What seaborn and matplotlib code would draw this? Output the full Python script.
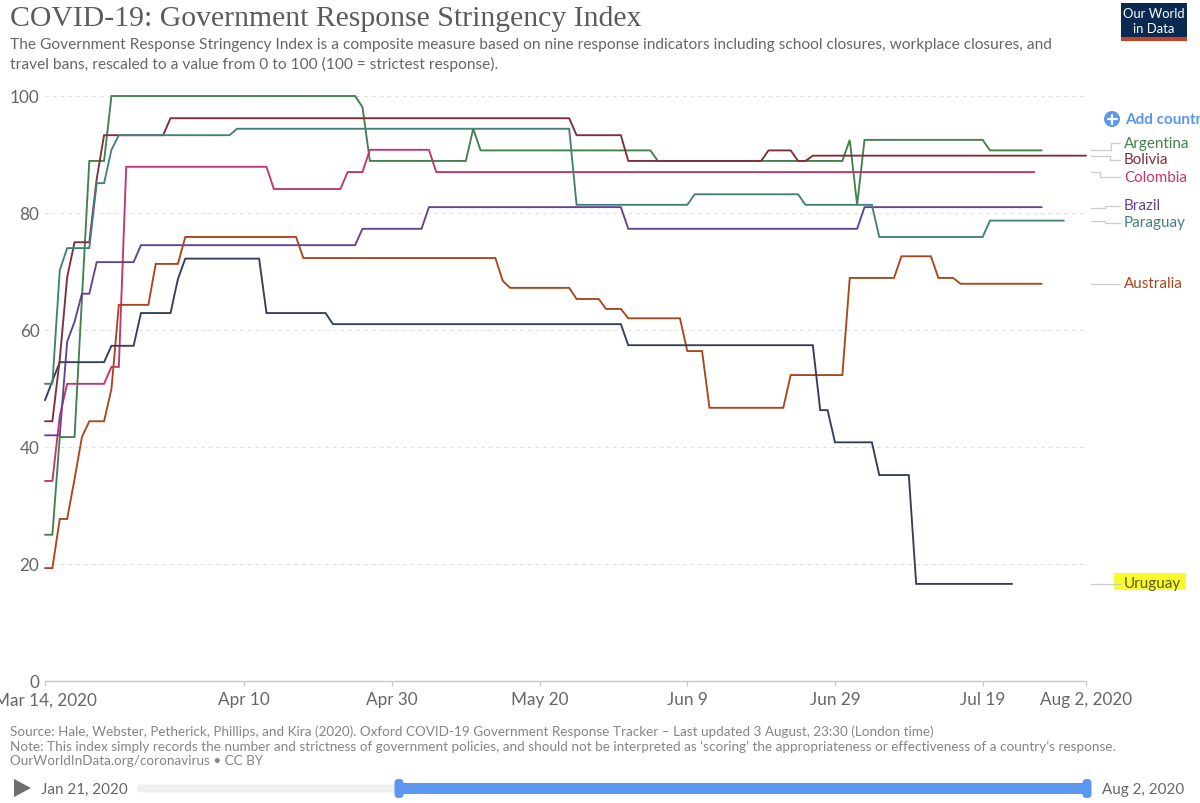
import pandas as pd
import matplotlib.pyplot as plt
from matplotlib.patches import Rectangle, Circle, FancyBboxPatch, Polygon
import seaborn as sns

# days are counted from the first date on the axis (Mar 14, 2020)
start_date = pd.Timestamp('2020-03-14')

argentina_days = [0, 1, 2, 4, 6, 8, 9, 42, 43, 44, 57, 58, 59, 82, 83, 108, 109, 110, 111, 127, 128, 135]
argentina_vals = [25, 25, 41.7, 41.7, 88.9, 88.9, 100, 100, 98.1, 88.9, 88.9, 94.4, 90.7, 90.7, 88.9, 88.9, 92.5, 81.4, 92.5, 92.5, 90.7, 90.7]

bolivia_days = [0, 1, 2, 3, 4, 6, 7, 8, 16, 17, 71, 72, 78, 79, 97, 98, 101, 102, 103, 104, 141]
bolivia_vals = [44.4, 44.4, 55, 69, 75, 75, 85.8, 93.3, 93.3, 96.2, 96.2, 93.3, 93.3, 88.9, 88.9, 90.7, 90.7, 88.9, 88.9, 89.8, 89.8]

colombia_days = [0, 1, 2, 3, 8, 9, 10, 11, 30, 31, 40, 41, 43, 44, 52, 53, 134]
colombia_vals = [34.2, 34.2, 45.3, 50.8, 50.8, 53.7, 53.7, 87.9, 87.9, 84.1, 84.1, 87, 87, 90.8, 90.8, 87, 87]

brazil_days = [0, 2, 3, 4, 5, 6, 7, 12, 13, 42, 43, 51, 52, 78, 79, 110, 111, 135]
brazil_vals = [42, 42, 58, 61.4, 66.2, 66.2, 71.6, 71.6, 74.5, 74.5, 77.3, 77.3, 81, 81, 77.3, 77.3, 81, 81]

paraguay_days = [0, 1, 2, 3, 6, 7, 8, 9, 10, 25, 26, 71, 72, 87, 88, 102, 103, 112, 113, 127, 128, 138]
paraguay_vals = [50.8, 50.8, 70.2, 74, 74, 85.1, 85.1, 90.8, 93.3, 93.3, 94.4, 94.4, 81.4, 81.4, 83.2, 83.2, 81.4, 81.4, 75.9, 75.9, 78.7, 78.7]

australia_days = [0, 1, 2, 3, 4, 5, 6, 8, 9, 10, 14, 15, 18, 19, 34, 35, 61, 62, 63, 71, 72, 75, 76, 78, 79, 86, 87, 89, 90, 100, 101, 108, 109, 115, 116, 120, 121, 123, 124, 135]
australia_vals = [19.3, 19.3, 27.7, 27.7, 34.5, 41.7, 44.4, 44.4, 49.9, 64.3, 64.3, 71.3, 71.3, 75.9, 75.9, 72.3, 72.3, 68.4, 67.2, 67.2, 65.3, 65.3, 63.6, 63.6, 62, 62, 56.4, 56.4, 46.7, 46.7, 52.3, 52.3, 68.9, 68.9, 72.6, 72.6, 68.9, 68.9, 67.9, 67.9]

uruguay_days = [0, 1, 2, 8, 9, 12, 13, 17, 18, 19, 29, 30, 38, 39, 78, 79, 104, 105, 106, 107, 112, 113, 117, 118, 131]
uruguay_vals = [48, 51.3, 54.5, 54.5, 57.3, 57.3, 62.9, 62.9, 68.7, 72.2, 72.2, 62.9, 62.9, 61, 61, 57.4, 57.4, 46.3, 46.3, 40.8, 40.8, 35.2, 35.2, 16.6, 16.6]

# draw order, last one ends up on top
countries = ['Argentina', 'Colombia', 'Brazil', 'Australia', 'Uruguay', 'Bolivia', 'Paraguay']
series_days = [argentina_days, colombia_days, brazil_days, australia_days, uruguay_days, bolivia_days, paraguay_days]
series_vals = [argentina_vals, colombia_vals, brazil_vals, australia_vals, uruguay_vals, bolivia_vals, paraguay_vals]
line_colors = ['#44804c', '#c2356f', '#624390', '#a8471f', '#333f5a', '#7d2f3a', '#43807c']

y_ticks = [0, 20, 40, 60, 80, 100]
x_tick_days = [0, 27, 47, 67, 87, 107, 127, 141]
x_tick_labels = ['Mar 14, 2020', 'Apr 10', 'Apr 30', 'May 20', 'Jun 9', 'Jun 29', 'Jul 19', 'Aug 2, 2020']

title = 'COVID-19: Government Response Stringency Index'
subtitle = ['The Government Response Stringency Index is a composite measure based on nine response indicators including school closures, workplace closures, and',
            'travel bans, rescaled to a value from 0 to 100 (100 = strictest response).']
footer = ['Source: Hale, Webster, Petherick, Phillips, and Kira (2020). Oxford COVID-19 Government Response Tracker – Last updated 3 August, 23:30 (London time)',
          'Note: This index simply records the number and strictness of government policies, and should not be interpreted as ‘scoring’ the appropriateness or effectiveness of a country’s response.',
          'OurWorldInData.org/coronavirus • CC BY']

# build long table for seaborn
frames = []
for name, days, vals in zip(countries, series_days, series_vals):
    frames.append(pd.DataFrame({'country': name,
                                'date': start_date + pd.to_timedelta(days, unit='D'),
                                'index': vals}))
data = pd.concat(frames, ignore_index=True)

sns.set_theme(style='white')
plt.rcParams['font.family'] = ['Lato', 'DejaVu Sans']

fig = plt.figure(figsize=(12, 8.04), dpi=100)
ax = fig.add_axes([45 / 1200, 1 - 682 / 804, 1041 / 1200, 585 / 804])

sns.lineplot(data=data, x='date', y='index', hue='country', hue_order=countries,
             palette=line_colors, estimator=None, sort=False, linewidth=1.35,
             legend=False, ax=ax)
for line in ax.lines:
    line.set_clip_on(False)
    line.set_solid_joinstyle('miter')

ax.set_xlim(start_date, start_date + pd.Timedelta(days=141))
ax.set_ylim(0, 100)
ax.set_xlabel('')
ax.set_ylabel('')
ax.set_yticks(y_ticks)
ax.set_xticks(start_date + pd.to_timedelta(x_tick_days, unit='D'))
ax.set_xticklabels(x_tick_labels)
ax.tick_params(axis='x', length=3.5, width=0.9, color='#c8c8c8', labelcolor='#666666', labelsize=12.3, pad=4, bottom=True)
ax.tick_params(axis='y', length=0, labelcolor='#666666', labelsize=12.3, pad=4)
ax.grid(axis='y', color='#dddddd', linestyle=(0, (3, 4)), linewidth=0.8)
ax.set_axisbelow(True)
for side in ['top', 'left', 'right']:
    ax.spines[side].set_visible(False)
ax.spines['bottom'].set_color('#c8c8c8')
ax.spines['bottom'].set_linewidth(1)

# everything around the plot goes on an overlay measured in pixels
ov = fig.add_axes([0, 0, 1, 1])
ov.set_xlim(0, 1200)
ov.set_ylim(804, 0)
ov.axis('off')

ov.text(10, 19.5, title, family='Liberation Serif', fontsize=21.4, color='#5b5b5b', va='center')
ov.text(10, 45, subtitle[0], fontsize=11.13, color='#666666', va='center')
ov.text(10, 64, subtitle[1], fontsize=11.13, color='#666666', va='center')
for y, txt in zip([732, 747, 761], footer):
    ov.text(10, y, txt, fontsize=9.72, color='#858585', va='center')

# logo
ov.add_patch(Rectangle((1121, 4), 66, 34, color='#0b2a52', lw=0))
ov.add_patch(Rectangle((1121, 38), 66, 4, color='#c8422a', lw=0))
ov.text(1154, 14, 'Our World', color='white', fontsize=9.4, ha='center', va='center')
ov.text(1154, 29, 'in Data', color='white', fontsize=9.4, ha='center', va='center')

# add country button
ov.add_patch(Circle((1112, 120), 8, color='#5b97f0', lw=0))
ov.plot([1107.5, 1116.5], [120, 120], color='white', lw=1.6)
ov.plot([1112, 1112], [115.5, 124.5], color='white', lw=1.6)
ov.text(1125, 120, 'Add country', color='#5b97f0', fontsize=11, fontweight='bold', va='center', clip_on=True)

# highlight behind Uruguay
ov.add_patch(Rectangle((1114, 573.5), 72, 17, color='#fbfb2a', lw=0))

# end labels and their connector lines
label_names = ['Argentina', 'Bolivia', 'Colombia', 'Brazil', 'Paraguay', 'Australia', 'Uruguay']
label_colors = ['#44804c', '#7d2f3a', '#c2356f', '#624390', '#43807c', '#a8471f', '#333f5a']
label_y = [144, 160.5, 177.5, 206.5, 223.5, 284.5, 584.5]
start_y = [151, 157, 173, 209, 222, 284.5, 584.5]
elbow_x = [1111, 1110, 1100, 1105, 1105, 1105, 1105]
for name, col, ly, sy, ex in zip(label_names, label_colors, label_y, start_y, elbow_x):
    ov.plot([1091, ex, ex, 1120], [sy, sy, ly, ly], color='#cccccc', lw=0.9)
    ov.text(1124, ly, name, color='#5a5a20' if name == 'Uruguay' else col, fontsize=10.9, va='center')

# timeline slider
ov.add_patch(Polygon([(14, 780), (14, 798), (31, 789)], color='#6e6e6e', lw=0))
ov.text(41, 790, 'Jan 21, 2020', color='#666666', fontsize=10.9, va='center')
ov.add_patch(FancyBboxPatch((137, 785.5), 949, 8, boxstyle='round,pad=0,rounding_size=4', color='#eeeeee', lw=0))
ov.add_patch(Rectangle((399, 784), 688, 11, color='#5b97f0', lw=0))
for x in [399, 1087]:
    ov.add_patch(FancyBboxPatch((x - 4.5, 780), 9, 19, boxstyle='round,pad=0,rounding_size=4', color='#5b97f0', lw=0))
ov.text(1102, 790, 'Aug 2, 2020', color='#666666', fontsize=10.9, va='center')

fig.savefig('out.png', dpi=100)
